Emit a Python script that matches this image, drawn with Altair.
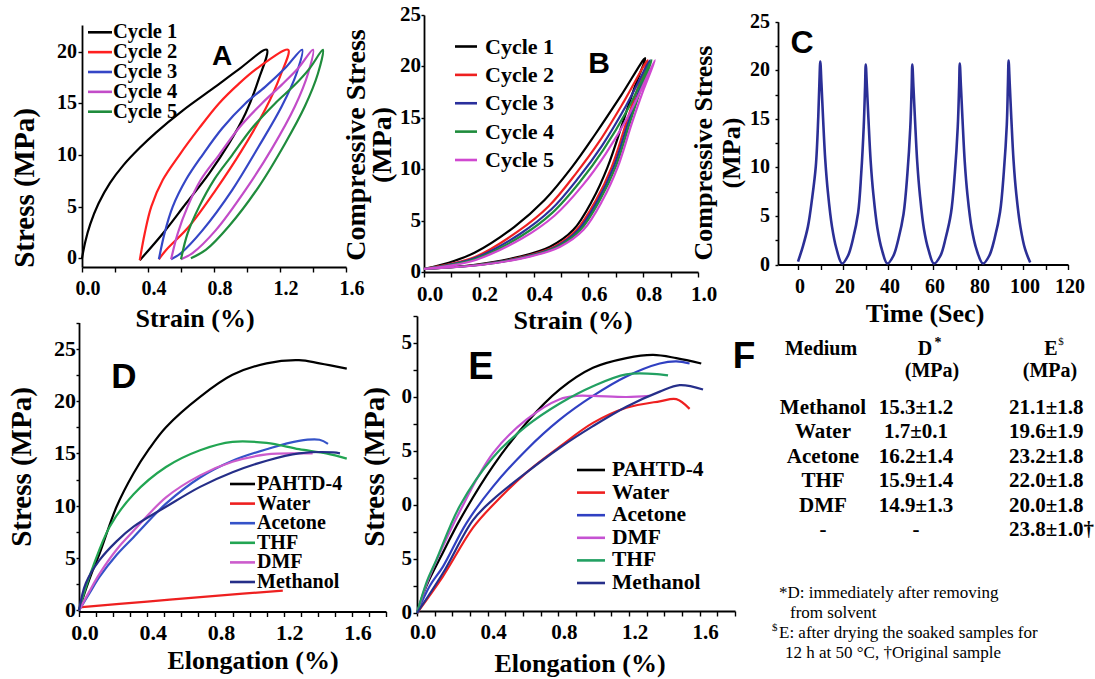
import altair as alt
import pandas as pd

SERIF = "Liberation Serif"
SANS = "Liberation Sans, Arial, sans-serif"
BOLD = 600
W, H = 1095, 679

# ---------------- Panel A (tensile cycles) ----------------
a_names = ["Cycle 1", "Cycle 2", "Cycle 3", "Cycle 4", "Cycle 5"]
a_colors = ["#000000", "#ff2020", "#3446c6", "#c24cc8", "#1f8c3c"]
a_x = [
    [0, 0.02, 0.05, 0.10, 0.17, 0.25, 0.35, 0.45, 0.61, 0.79, 0.95, 1.12, 1.07, 0.99, 0.89, 0.77, 0.63, 0.49, 0.35],
    [0.35, 0.38, 0.42, 0.49, 0.59, 0.71, 0.83, 0.95, 1.07, 1.25, 1.20, 1.11, 0.97, 0.81, 0.65, 0.51, 0.466],
    [0.466, 0.50, 0.55, 0.63, 0.73, 0.85, 0.99, 1.11, 1.23, 1.334, 1.30, 1.21, 1.07, 0.91, 0.73, 0.60, 0.54],
    [0.54, 0.58, 0.64, 0.72, 0.83, 0.95, 1.09, 1.21, 1.31, 1.40, 1.37, 1.29, 1.15, 0.99, 0.81, 0.67, 0.60],
    [0.60, 0.64, 0.71, 0.80, 0.91, 1.03, 1.17, 1.29, 1.38, 1.46, 1.43, 1.35, 1.23, 1.07, 0.89, 0.75, 0.66],
]
a_y = [
    [0, 1.6, 3.3, 5.3, 7.3, 9.0, 10.7, 12.2, 14.3, 16.4, 18.3, 20.2, 17.3, 14.0, 11.1, 8.2, 5.3, 2.4, -0.2],
    [-0.2, 2.4, 5.0, 7.6, 10.0, 12.6, 15.0, 16.9, 18.5, 20.2, 17.6, 14.4, 10.5, 6.6, 3.1, 0.8, -0.1],
    [-0.1, 2.4, 5.0, 7.6, 10.0, 12.6, 15.0, 16.6, 18.4, 20.2, 17.9, 14.7, 10.8, 6.6, 2.7, 0.5, -0.1],
    [-0.1, 2.4, 5.0, 7.6, 10.0, 12.6, 15.0, 16.8, 18.4, 20.2, 17.9, 14.7, 10.6, 6.6, 2.7, 0.5, -0.1],
    [-0.1, 2.4, 5.0, 7.6, 10.0, 12.6, 15.0, 16.8, 18.4, 20.2, 17.9, 14.7, 11.1, 6.9, 3.1, 0.8, 0.0],
]
a_xticks = [0, 0.4, 0.8, 1.2, 1.6]
a_xlabels = ["0.0", "0.4", "0.8", "1.2", "1.6"]
a_yticks = [0, 5, 10, 15, 20]
a_ylabels = ["0", "5", "10", "15", "20"]

# ---------------- Panel B (compression cycles) ----------------
b_names = ["Cycle 1", "Cycle 2", "Cycle 3", "Cycle 4", "Cycle 5"]
b_colors = ["#000000", "#ee2020", "#2a2f9c", "#1f8c3c", "#d048d0"]
b_x = [
    [0, 0.09, 0.186, 0.33, 0.44, 0.54, 0.625, 0.72, 0.807, 0.765, 0.725, 0.67, 0.615, 0.545, 0.46, 0.35, 0.18, 0],
    [0, 0.09, 0.186, 0.34, 0.455, 0.555, 0.64, 0.73, 0.816, 0.775, 0.738, 0.685, 0.628, 0.557, 0.475, 0.365, 0.19, 0],
    [0, 0.09, 0.186, 0.35, 0.465, 0.565, 0.65, 0.738, 0.825, 0.783, 0.745, 0.692, 0.635, 0.564, 0.482, 0.372, 0.195, 0],
    [0, 0.09, 0.186, 0.355, 0.47, 0.57, 0.655, 0.743, 0.831, 0.788, 0.751, 0.699, 0.642, 0.571, 0.488, 0.378, 0.2, 0],
    [0, 0.09, 0.186, 0.36, 0.477, 0.578, 0.663, 0.75, 0.843, 0.798, 0.759, 0.707, 0.652, 0.582, 0.497, 0.386, 0.205, 0],
]
b_y = [
    [0.3, 0.9, 1.9, 4.4, 7.0, 10.2, 13.4, 17.2, 20.8, 17.7, 14.5, 10.2, 7.0, 4.1, 2.46, 1.49, 0.68, 0.3],
    [0.3, 0.75, 1.45, 3.9, 6.4, 9.6, 12.7, 16.6, 20.6, 17.5, 14.5, 10.2, 7.0, 4.1, 2.46, 1.49, 0.68, 0.3],
    [0.3, 0.7, 1.35, 3.7, 6.1, 9.2, 12.3, 16.2, 20.6, 17.5, 14.5, 10.2, 7.0, 4.1, 2.46, 1.49, 0.68, 0.3],
    [0.3, 0.65, 1.25, 3.5, 5.8, 8.8, 11.9, 15.8, 20.6, 17.5, 14.5, 10.2, 7.0, 4.1, 2.46, 1.49, 0.68, 0.3],
    [0.3, 0.6, 1.15, 3.3, 5.5, 8.4, 11.5, 15.4, 20.6, 17.5, 14.5, 10.2, 7.0, 4.1, 2.46, 1.49, 0.68, 0.3],
]
b_xticks = [0, 0.2, 0.4, 0.6, 0.8, 1.0]
b_xlabels = ["0.0", "0.2", "0.4", "0.6", "0.8", "1.0"]
b_yticks = [0, 5, 10, 15, 20, 25]
b_ylabels = ["0", "5", "10", "15", "20", "25"]

# ---------------- Panel C (stress vs time) ----------------
c_time = [0, 2.2, 4.4, 6.2, 7.9, 9.0, 9.5, 9.9, 10.4, 11.1, 12.1, 13.3, 15.1, 17.0, 19.6,
          22.2, 24.4, 26.7, 28.1, 29.2, 29.8, 30.1, 30.6, 31.3, 32.3, 33.5, 35.3, 37.3, 39.7,
          42.4, 44.6, 46.9, 48.6, 49.9, 50.5, 50.8, 51.3, 52.0, 53.0, 54.2, 56.0, 58.0, 60.4,
          63.3, 65.6, 68.0, 69.7, 71.0, 71.6, 71.9, 72.4, 73.1, 74.1, 75.3, 77.2, 79.4, 82.2,
          85.0, 87.4, 89.8, 91.5, 92.8, 93.3, 93.6, 94.1, 94.8, 95.8, 97.0, 98.9, 100.9, 103.2]
c_stress = [0.3, 1.9, 3.9, 6.7, 10.1, 15.2, 18.7, 20.9, 18.7, 15.2, 10.8, 7.4, 3.9, 1.7, 0.1,
            0.9, 2.6, 5.3, 9.4, 14.2, 18.3, 20.6, 18.4, 15.0, 10.6, 7.2, 3.7, 1.5, 0.1,
            0.9, 2.6, 5.2, 9.3, 14.1, 18.2, 20.6, 18.3, 14.9, 10.5, 7.1, 3.6, 1.5, 0.1,
            0.9, 2.7, 5.3, 9.4, 14.2, 18.3, 20.7, 18.4, 15.0, 10.6, 7.2, 3.7, 1.5, 0.1,
            0.9, 2.7, 5.4, 9.6, 14.4, 18.6, 21.0, 18.6, 15.1, 10.7, 7.3, 3.8, 1.6, 0.2]
c_xticks = [0, 20, 40, 60, 80, 100, 120]
c_xlabels = ["0", "20", "40", "60", "80", "100", "120"]
c_yticks = [0, 5, 10, 15, 20, 25]
c_ylabels = ["0", "5", "10", "15", "20", "25"]

# ---------------- Panel D (tensile after soaking) ----------------
d_names = ["PAHTD-4", "Water", "Acetone", "THF", "DMF", "Methanol"]
d_colors = ["#000000", "#ee2020", "#3553c8", "#22a552", "#cc5ccc", "#252e88"]
d_x = [
    [0, 0.04, 0.08, 0.12, 0.22, 0.32, 0.41, 0.51, 0.71, 0.90, 1.10, 1.29, 1.41, 1.57],
    [0, 0.4, 0.8, 1.195],
    [0, 0.06, 0.12, 0.22, 0.32, 0.51, 0.71, 0.90, 1.10, 1.29, 1.41, 1.46],
    [0, 0.04, 0.08, 0.18, 0.32, 0.51, 0.71, 0.90, 1.10, 1.29, 1.45, 1.57],
    [0, 0.06, 0.12, 0.22, 0.32, 0.51, 0.71, 0.90, 1.10, 1.29, 1.37],
    [0, 0.04, 0.12, 0.22, 0.32, 0.51, 0.71, 0.90, 1.10, 1.29, 1.49, 1.53],
]
d_y = [
    [0, 2.0, 3.8, 5.4, 9.9, 13.1, 15.4, 17.5, 20.4, 22.5, 23.6, 23.9, 23.6, 23.1],
    [0.3, 0.85, 1.4, 1.9],
    [0, 1.6, 3.2, 5.3, 7.0, 10.2, 12.7, 14.3, 15.4, 16.2, 16.3, 15.9],
    [0, 2.2, 4.1, 8.0, 11.1, 13.7, 15.3, 16.1, 16.0, 15.4, 15.0, 14.5],
    [0, 1.8, 3.5, 5.8, 7.6, 10.8, 12.9, 14.2, 14.9, 15.0, 15.0],
    [0, 2.6, 4.8, 6.6, 8.0, 9.9, 11.8, 13.2, 14.3, 15.0, 15.1, 15.0],
]
d_xticks = [0, 0.4, 0.8, 1.2, 1.6]
d_xlabels = ["0.0", "0.4", "0.8", "1.2", "1.6"]
d_yticks = [0, 5, 10, 15, 20, 25]
d_ylabels = ["0", "5", "10", "15", "20", "25"]

# ---------------- Panel E (tensile after drying) ----------------
e_names = ["PAHTD-4", "Water", "Acetone", "DMF", "THF", "Methanol"]
e_colors = ["#000000", "#ee2020", "#3040c2", "#c552d2", "#22a062", "#262f8a"]
e_x = [
    [0, 0.053, 0.147, 0.242, 0.43, 0.619, 0.808, 0.996, 1.185, 1.336, 1.468, 1.609],
    [0, 0.147, 0.317, 0.43, 0.619, 0.808, 0.996, 1.185, 1.374, 1.468, 1.543],
    [0, 0.072, 0.147, 0.279, 0.43, 0.619, 0.808, 0.996, 1.185, 1.374, 1.468, 1.543],
    [0, 0.053, 0.109, 0.242, 0.43, 0.619, 0.808, 0.902, 0.996, 1.185, 1.317],
    [0, 0.053, 0.109, 0.242, 0.43, 0.619, 0.808, 0.996, 1.185, 1.374, 1.421],
    [0, 0.147, 0.317, 0.43, 0.619, 0.808, 0.996, 1.185, 1.374, 1.487, 1.619],
]
e_y = [
    [0, 2.5, 5.6, 8.6, 13.6, 17.6, 20.7, 22.7, 23.6, 23.9, 23.6, 23.1],
    [0, 3.4, 7.9, 10.0, 13.0, 15.4, 17.6, 19.0, 19.6, 19.8, 18.9],
    [0, 2.5, 4.3, 8.3, 11.7, 15.1, 17.9, 20.1, 21.9, 23.1, 23.3, 23.1],
    [0, 2.6, 4.8, 9.4, 14.8, 17.9, 19.8, 20.1, 20.1, 20.0, 20.1],
    [0, 2.8, 4.9, 9.9, 14.4, 17.3, 19.4, 21.0, 22.1, 22.1, 22.0],
    [0, 3.7, 8.6, 10.5, 13.0, 15.3, 17.3, 19.1, 20.5, 21.1, 20.7],
]
e_xticks = [0, 0.4, 0.8, 1.2, 1.6]
e_xlabels = ["0.0", "0.4", "0.8", "1.2", "1.6"]
e_yticks = [0, 5, 10, 15, 20, 25]
e_ylabels = ["0", "5", "0", "5", "0", "5"]   # leading digits are cut off in the original

# ---------------- Panel F (table) ----------------
f_medium = ["Methanol", "Water", "Acetone", "THF", "DMF", "-"]
f_d = ["15.3±1.2", "1.7±0.1", "16.2±1.4", "15.9±1.4", "14.9±1.3", "-"]
f_e = ["21.1±1.8", "19.6±1.9", "23.2±1.8", "22.0±1.8", "20.0±1.8", "23.8±1.0†"]


def long_df(names, xs, ys):
    rows = []
    for n, xx, yy in zip(names, xs, ys):
        for i, (a, b) in enumerate(zip(xx, yy)):
            rows.append({"series": n, "x": a, "y": b, "i": i})
    return pd.DataFrame(rows)


def steps(a, b, s):
    n = int(round((b - a) / s))
    return [round(a + k * s, 4) for k in range(n + 1)]


LINE_AXIS = dict(labels=False, title=None, grid=False, domainColor="black", domainWidth=1.8,
                 tickColor="black", tickWidth=1.4)


def panel(df, names, colors, xdom, xrange, ydom, yrange, axis_x, axis_y,
          xticks, yticks, xlab, ylab, xtick=5, ytick=4, sw=2.2):
    """xlab = (values, texts, size, gap, dx); ylab = (values, texts, size, gap)."""
    xax = alt.Axis(orient="bottom", offset=axis_y - H, values=xticks, tickSize=xtick, **LINE_AXIS)
    yax = alt.Axis(orient="left", offset=-axis_x, values=yticks, tickSize=ytick, **LINE_AXIS)
    xs = alt.Scale(domain=xdom, range=xrange, nice=False, zero=False)
    ys = alt.Scale(domain=ydom, range=yrange, nice=False, zero=False)
    lines = alt.Chart(df).mark_line(strokeWidth=sw, interpolate="catmull-rom").encode(
        x=alt.X("x:Q", scale=xs, axis=xax),
        y=alt.Y("y:Q", scale=ys, axis=yax),
        color=alt.Color("series:N", scale=alt.Scale(domain=names, range=colors), legend=None),
        order="i:Q",
    )
    xv, xt, xsize, xgap, xdx = xlab
    yv, yt, ysize, ygap = ylab
    xl = alt.Chart(pd.DataFrame({"x": xv, "lab": xt})).mark_text(
        font=SERIF, fontWeight=BOLD, fontSize=xsize, align="center", baseline="top", dx=xdx, color="black"
    ).encode(x=alt.X("x:Q", scale=xs, axis=xax), y=alt.value(axis_y + xtick + xgap), text="lab:N")
    yl = alt.Chart(pd.DataFrame({"y": yv, "lab": yt})).mark_text(
        font=SERIF, fontWeight=BOLD, fontSize=ysize, align="right", baseline="middle", color="black"
    ).encode(y=alt.Y("y:Q", scale=ys, axis=yax), x=alt.value(axis_x - ytick - ygap), text="lab:N")
    return alt.layer(lines, xl, yl)


def key(names, colors, x1, x2, xt, y0, y1, size):
    """Legend drawn from the series names through a point scale."""
    df = pd.DataFrame({"series": names})
    y = alt.Y("series:N", scale=alt.Scale(type="point", domain=names, range=[y0, y1], padding=0), axis=None)
    col = alt.Color("series:N", scale=alt.Scale(domain=names, range=colors), legend=None)
    rules = alt.Chart(df).mark_rule(strokeWidth=2.6).encode(
        x=alt.value(x1), x2=alt.value(x2), y=y, color=col)
    texts = alt.Chart(df).mark_text(align="left", baseline="middle", font=SERIF, fontSize=size,
                                    fontWeight=BOLD, color="black").encode(
        x=alt.value(xt), y=y, text="series:N")
    return alt.layer(rules, texts)


def label(text, x, y, size, font=SERIF, weight=BOLD, align="center", baseline="middle", angle=0):
    return alt.Chart(pd.DataFrame({"t": [text]})).mark_text(
        font=font, fontSize=size, fontWeight=weight, align=align, baseline=baseline, color="black", angle=angle
    ).encode(text="t:N", x=alt.value(x), y=alt.value(y))


# Panel A
pA = panel(long_df(a_names, a_x, a_y), a_names, a_colors,
           [0, 1.6], [82, 346], [-0.85, 22.6], [267, 25], 82, 267,
           steps(0, 1.6, 0.2), a_yticks,
           (a_xticks, a_xlabels, 20, 7, 6), (a_yticks, a_ylabels, 20, 1))
kA = key(a_names, a_colors, 88, 112, 113, 32.3, 111.7, 20.5)

# Panel B
pB = panel(long_df(b_names, b_x, b_y), b_names, b_colors,
           [0, 1.0], [424, 698], [0, 25], [272, 15], 424, 272,
           steps(0, 1.0, 0.1), b_yticks,
           (b_xticks, b_xlabels, 21, 7, 6), (b_yticks, b_ylabels, 21, 0), ytick=3)
kB = key(b_names, b_colors, 455, 477, 485, 46.5, 160, 22)

# Panel C
dfC = pd.DataFrame({"series": "C", "x": c_time, "y": c_stress, "i": list(range(len(c_time)))})
pC = panel(dfC, ["C"], ["#2b2f96"],
           [-8.9, 120], [778, 1068], [0, 25], [264.5, 21.7], 778, 264.5,
           steps(0, 120, 10), steps(0, 25, 2.5),
           (c_xticks, c_xlabels, 20, 7, 2), (c_yticks, c_ylabels, 20, 5), ytick=3, sw=2.6)

# Panel D
pD = panel(long_df(d_names, d_x, d_y), d_names, d_colors,
           [0, 1.8], [79, 386], [-0.1, 27.5], [611.5, 322.5], 79, 611.5,
           steps(0, 1.8, 0.1), steps(0, 27.5, 2.5),
           (d_xticks, d_xlabels, 22, 6, 6), (d_yticks, d_ylabels, 22, 0), ytick=3)
kD = key(d_names, d_colors, 230, 255, 257, 484, 582, 20)

# Panel E
pE = panel(long_df(e_names, e_x, e_y), e_names, e_colors,
           [0, 1.8], [417, 735], [0, 27.5], [613, 316], 417, 611,
           steps(0, 1.8, 0.1), steps(0, 27.5, 2.5),
           (e_xticks, e_xlabels, 21, 6, 6), (e_yticks, e_ylabels, 21, 1))
kE = key(e_names, e_colors, 577, 605, 612, 470, 583, 21.5)

# Panel F table body
f_rows = []
for m, dv, ev in zip(f_medium, f_d, f_e):
    f_rows.append({"row": m, "col": "Medium", "t": m})
    f_rows.append({"row": m, "col": "D", "t": dv})
    f_rows.append({"row": m, "col": "E", "t": ev})
dfF = pd.DataFrame(f_rows)
fx = alt.X("col:N", scale=alt.Scale(type="point", domain=["Medium", "D", "E"], range=[823, 1009], padding=0), axis=None)
fy = alt.Y("row:N", scale=alt.Scale(type="point", domain=f_medium, range=[408, 530], padding=0), axis=None)
fBase = alt.Chart(dfF)
fCenter = fBase.transform_filter("datum.col != 'E'").mark_text(
    font=SERIF, fontSize=21, fontWeight=BOLD, align="center", baseline="middle", color="black"
).encode(x=fx, y=fy, text="t:N")
fLeft = fBase.transform_filter("datum.col == 'E'").mark_text(
    font=SERIF, fontSize=21, fontWeight=BOLD, align="left", baseline="middle", color="black"
).encode(x=fx, y=fy, text="t:N")
pF = alt.layer(fCenter, fLeft)

annotations = [
    # axis titles
    label("Strain (%)", 195, 319, 26),
    label("Stress (MPa)", 25, 188, 29, angle=270),
    label("Strain (%)", 573, 321, 26),
    label("Compressive Stress", 357, 145, 28, angle=270),
    label("(MPa)", 383, 145, 28, angle=270),
    label("Time (Sec)", 925, 314, 26),
    label("Compressive Stress", 704, 153, 26, angle=270),
    label("(MPa)", 732, 153, 26, angle=270),
    label("Elongation (%)", 253, 661, 26),
    label("Stress (MPa)", 22, 467, 29, angle=270),
    label("Elongation (%)", 580, 664, 26),
    label("Stress (MPa)", 375, 467, 29, angle=270),
    # panel letters
    label("A", 222, 57, 28, font=SANS, weight="bold"),
    label("B", 599, 64, 30, font=SANS, weight="bold"),
    label("C", 802, 43, 32, font=SANS, weight="bold"),
    label("D", 124, 377, 35, font=SANS, weight="bold"),
    label("E", 481, 368, 38, font=SANS, weight="bold"),
    label("F", 744, 357, 37, font=SANS, weight="bold"),
    # table header and notes
    label("Medium", 821, 349, 20),
    label("D", 925, 349, 20),
    label("*", 938, 343, 14),
    label("(MPa)", 932, 371, 20),
    label("E", 1051, 349, 20),
    label("$", 1061, 342, 11, weight="normal"),
    label("(MPa)", 1050, 371, 20),
    label("*D: immediately after removing", 779, 593, 17, weight="normal", align="left"),
    label("from solvent", 790, 613, 17, weight="normal", align="left"),
    label("$", 772, 628, 11, weight="normal", align="left"),
    label("E: after drying the soaked samples for", 779, 633, 17, weight="normal", align="left"),
    label("12 h at 50 °C, †Original sample", 785, 653, 17, weight="normal", align="left"),
]

chart = alt.layer(pA, pB, pC, pD, pE, pF, kA, kB, kD, kE, *annotations).resolve_scale(
    x="independent", y="independent", color="independent"
).properties(
    width=W, height=H, padding=0, autosize=alt.AutoSizeParams(type="none"), background="white"
).configure_view(stroke=None)

chart.save("out.html", embed_options={"renderer": "svg", "actions": False})
